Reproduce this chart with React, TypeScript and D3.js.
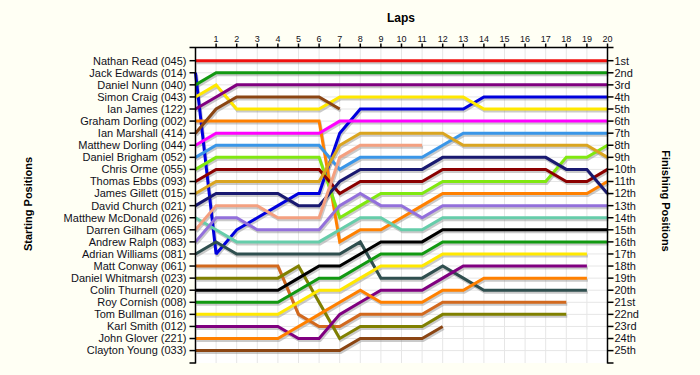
import React from "react";
import * as d3 from "d3";

// ---------- data ----------
const startLabels = [
  "Nathan Read (045)", "Jack Edwards (014)", "Daniel Nunn (040)", "Simon Craig (043)",
  "Ian James (122)", "Graham Dorling (002)", "Ian Marshall (414)", "Matthew Dorling (044)",
  "Daniel Brigham (052)", "Chris Orme (055)", "Thomas Ebbs (093)", "James Gillett (015)",
  "David Church (021)", "Matthew McDonald (026)", "Darren Gilham (065)", "Andrew Ralph (083)",
  "Adrian Williams (081)", "Matt Conway (061)", "Daniel Whitmarsh (023)", "Colin Thurnell (020)",
  "Roy Cornish (008)", "Tom Bullman (016)", "Karl Smith (012)", "John Glover (221)",
  "Clayton Young (033)",
];
const finishLabels = [
  "1st", "2nd", "3rd", "4th", "5th", "6th", "7th", "8th", "9th", "10th", "11th", "12th",
  "13th", "14th", "15th", "16th", "17th", "18th", "19th", "20th", "21st", "22nd", "23rd",
  "24th", "25th",
];
const lapTicks = [1, 2, 3, 4, 5, 6, 7, 8, 9, 10, 11, 12, 13, 14, 15, 16, 17, 18, 19, 20];

const nathanRead = [1, 1, 1, 1, 1, 1, 1, 1, 1, 1, 1, 1, 1, 1, 1, 1, 1, 1, 1, 1, 1];
const jackEdwards = [2, 17, 15, 14, 13, 12, 12, 7, 5, 5, 5, 5, 5, 5, 4, 4, 4, 4, 4, 4, 4];
const danielNunn = [3, 2, 2, 2, 2, 2, 2, 2, 2, 2, 2, 2, 2, 2, 2, 2, 2, 2, 2, 2, 2];
const simonCraig = [4, 3, 5, 5, 5, 5, 5, 4, 4, 4, 4, 4, 4, 4, 5, 5, 5, 5, 5, 5, 5];
const ianJames = [5, 4, 3, 3, 3, 3, 3, 3, 3, 3, 3, 3, 3, 3, 3, 3, 3, 3, 3, 3, 3];
const grahamDorling = [6, 6, 6, 6, 6, 6, 6, 16, 15, 15, 14, 13, 12, 12, 12, 12, 12, 12, 12, 12, 11];
const ianMarshall = [7, 5, 4, 4, 4, 4, 4, 5];
const matthewDorling = [8, 7, 7, 7, 7, 7, 7, 6, 6, 6, 6, 6, 6, 6, 6, 6, 6, 6, 6, 6, 6];
const danielBrigham = [9, 8, 8, 8, 8, 8, 8, 10, 9, 9, 9, 9, 8, 7, 7, 7, 7, 7, 7, 7, 7];
const chrisOrme = [10, 9, 9, 9, 9, 9, 9, 14, 13, 12, 12, 12, 11, 11, 11, 11, 11, 11, 9, 9, 8];
const thomasEbbs = [11, 10, 10, 10, 10, 10, 10, 12, 11, 11, 11, 11, 10, 10, 10, 10, 10, 10, 11, 11, 10];
const jamesGillett = [12, 11, 11, 11, 11, 11, 11, 8, 7, 7, 7, 7, 7, 8, 8, 8, 8, 8, 8, 8, 9];
const davidChurch = [13, 12, 12, 12, 12, 13, 13, 11, 10, 10, 10, 10, 9, 9, 9, 9, 9, 9, 10, 10, 12];
const matthewMcDonald = [14, 15, 16, 16, 16, 16, 16, 15, 14, 14, 15, 15, 14, 14, 14, 14, 14, 14, 14, 14, 14];
const darrenGilham = [15, 13, 13, 13, 14, 14, 14, 9, 8, 8, 8, 8];
const andrewRalph = [16, 14, 14, 15, 15, 15, 15, 13, 12, 13, 13, 14, 13, 13, 13, 13, 13, 13, 13, 13, 13];
const adrianWilliams = [17, 16, 17, 17, 17, 17, 17, 17, 16, 19, 19, 19, 18, 19, 20, 20, 20, 20, 20, 20];
const mattConway = [18, 18, 18, 18, 18, 22, 23, 23, 22, 22, 22, 22, 21, 21, 21, 21, 21, 21, 21];
const danielWhitmarsh = [19, 19, 19, 19, 19, 18, 21, 24, 23, 23, 23, 23, 22, 22, 22, 22, 22, 22, 22];
const colinThurnell = [20, 20, 20, 20, 20, 19, 18, 18, 17, 16, 16, 16, 15, 15, 15, 15, 15, 15, 15, 15, 15];
const royCornish = [21, 21, 21, 21, 21, 20, 19, 19, 18, 17, 17, 17, 16, 16, 16, 16, 16, 16, 16, 16, 16];
const tomBullman = [22, 22, 22, 22, 22, 21, 20, 20, 19, 18, 18, 18, 17, 17, 17, 17, 17, 17, 17, 17];
const karlSmith = [23, 23, 23, 23, 23, 24, 24, 22, 21, 20, 20, 20, 19, 18, 18, 18, 18, 18, 18, 18];
const johnGlover = [24, 24, 24, 24, 24, 23, 22, 21, 20, 21, 21, 21, 20, 20, 19, 19, 19, 19, 19, 19];
const claytonYoung = [25, 25, 25, 25, 25, 25, 25, 25, 24, 24, 24, 24, 23];

const series = [
  nathanRead, jackEdwards, danielNunn, simonCraig, ianJames, grahamDorling, ianMarshall,
  matthewDorling, danielBrigham, chrisOrme, thomasEbbs, jamesGillett, davidChurch,
  matthewMcDonald, darrenGilham, andrewRalph, adrianWilliams, mattConway, danielWhitmarsh,
  colinThurnell, royCornish, tomBullman, karlSmith, johnGlover, claytonYoung,
];
const colors = [
  "#F01010", "#0000DD", "#119911", "#FFE800", "#800080", "#FF8000", "#8B4513",
  "#FF00FF", "#3A96E8", "#80E810", "#8B0000", "#DAA520", "#191970",
  "#66CDAA", "#F4A080", "#9370DB", "#2F4F4F", "#D2691E", "#808000",
  "#000000", "#119911", "#FFE800", "#800080", "#FF8000", "#8B4513",
];

// ---------- layout ----------
const W = 700;
const H = 375;
const plotLeft = 195.5;
const plotRight = 607.5;
const plotTop = 47.5;
const plotBottom = 363;

export default function App() {
  const x = d3.scaleLinear().domain([0, 20]).range([plotLeft, plotRight]);
  const y = d3.scaleLinear().domain([1, 25]).range([60.7, 350.6]);
  const line = d3
    .line<number>()
    .x((_, i) => x(i))
    .y((d) => y(d));

  const rows = d3.range(1, 26);
  const font = "'Liberation Sans', Arial, sans-serif";
  const textColor = "#10101a";

  return (
    <svg
      width={W}
      height={H}
      style={{ position: "absolute", left: 0, top: 0, display: "block" }}
      fontFamily={font}
    >
      <rect x={0} y={0} width={W} height={H} fill="#FFFFF4" />
      <rect
        x={plotLeft}
        y={plotTop}
        width={plotRight - plotLeft}
        height={plotBottom - plotTop}
        fill="#FFFFFF"
      />
      {/* grid */}
      <g stroke="#E6E6E6" strokeWidth={1}>
        {lapTicks.slice(0, 19).map((l) => (
          <line key={"v" + l} x1={x(l)} x2={x(l)} y1={plotTop} y2={plotBottom} />
        ))}
        {rows.map((r) => (
          <line key={"h" + r} x1={plotLeft} x2={plotRight} y1={y(r)} y2={y(r)} />
        ))}
      </g>

      {/* shadows */}
      <g transform="translate(1,2)" fill="none" strokeWidth={3} stroke="#8a8a8a" strokeOpacity={0.45}
        strokeLinejoin="miter" strokeMiterlimit={2}>
        {series.map((s, i) => (
          <path key={"s" + i} d={line(s) || ""} />
        ))}
      </g>
      {/* lines */}
      <g fill="none" strokeWidth={3} strokeLinejoin="miter" strokeMiterlimit={2}>
        {series.map((s, i) => (
          <path key={"l" + i} d={line(s) || ""} stroke={colors[i]} />
        ))}
      </g>

      {/* axes */}
      <g stroke="#000" strokeWidth={1.5}>
        <line x1={plotLeft} x2={plotLeft} y1={plotTop} y2={plotBottom + 0.5} />
        <line x1={plotRight} x2={plotRight} y1={plotTop} y2={plotBottom + 0.5} />
        <line x1={plotLeft - 6} x2={plotRight + 6} y1={plotTop} y2={plotTop} />
        <line x1={plotLeft - 6} x2={plotLeft} y1={plotBottom} y2={plotBottom} />
        <line x1={plotRight} x2={plotRight + 6} y1={plotBottom} y2={plotBottom} />
        {rows.map((r) => (
          <line key={"tl" + r} x1={plotLeft - 6} x2={plotLeft} y1={y(r)} y2={y(r)} />
        ))}
        {rows.map((r) => (
          <line key={"tr" + r} x1={plotRight} x2={plotRight + 6} y1={y(r)} y2={y(r)} />
        ))}
        {lapTicks.map((l) => (
          <line key={"tt" + l} x1={x(l)} x2={x(l)} y1={plotTop - 4} y2={plotTop} />
        ))}
      </g>

      {/* labels */}
      <g fontSize={11} fill={textColor}>
        {startLabels.map((t, i) => (
          <text key={"sl" + i} x={plotLeft - 9} y={y(i + 1)} dy="0.35em" textAnchor="end">
            {t}
          </text>
        ))}
        {finishLabels.map((t, i) => (
          <text key={"fl" + i} x={plotRight + 7} y={y(i + 1)} dy="0.35em" textAnchor="start">
            {t}
          </text>
        ))}
      </g>
      <g fontSize={9} fill={textColor}>
        {lapTicks.map((l) => (
          <text key={"lt" + l} x={x(l)} y={42} textAnchor="middle">
            {l}
          </text>
        ))}
      </g>
      <g fontWeight="bold" fill="#000">
        <text x={401} y={22} fontSize={12} textAnchor="middle">
          Laps
        </text>
        <text
          transform={`translate(32,204) rotate(-90)`}
          fontSize={11}
          textAnchor="middle"
        >
          Starting Positions
        </text>
        <text
          transform={`translate(662,201) rotate(90)`}
          fontSize={11}
          textAnchor="middle"
        >
          Finishing Positions
        </text>
      </g>
    </svg>
  );
}
